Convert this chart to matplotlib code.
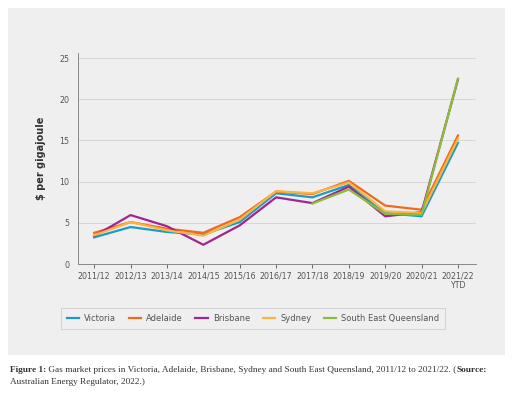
import matplotlib
matplotlib.use("Agg")
import matplotlib.pyplot as plt
from matplotlib.patches import Rectangle

years = ["2011/12", "2012/13", "2013/14", "2014/15", "2015/16", "2016/17",
         "2017/18", "2018/19", "2019/20", "2020/21", "2021/22\nYTD"]

victoria = [3.25, 4.5, 3.9, 3.6, 5.1, 8.6, 8.1, 9.6, 6.2, 5.8, 14.7]
adelaide = [3.8, 5.1, 4.3, 3.8, 5.7, 8.8, 8.5, 10.1, 7.1, 6.6, 15.6]
brisbane = [3.4, 5.95, 4.6, 2.35, 4.7, 8.1, 7.4, 9.4, 5.8, 6.3, 22.4]
sydney = [3.5, 5.1, 4.1, 3.45, 5.4, 8.85, 8.6, 9.9, 6.4, 6.2, 15.2]
seq = [None, None, None, None, None, None, 7.35, 9.05, 6.1, 6.0, 22.5]

series = [("Victoria", victoria, "#1a9bc8"),
          ("Adelaide", adelaide, "#f06a1e"),
          ("Brisbane", brisbane, "#a0268f"),
          ("Sydney", sydney, "#fbb442"),
          ("South East Queensland", seq, "#8abd3c")]

fig = plt.figure(figsize=(5.12, 3.99), dpi=100, facecolor="white")
bg = Rectangle((8 / 512, 1 - 355 / 399), 497 / 512, 347 / 399,
               transform=fig.transFigure, facecolor="#efefef",
               edgecolor="none", zorder=-5)
fig.add_artist(bg)

ax = fig.add_axes([0.152, 0.338, 0.778, 0.529])
ax.set_facecolor("none")
ax.set_zorder(1)

x = list(range(len(years)))
for name, vals, col in series:
    xs = [i for i, v in zip(x, vals) if v is not None]
    ys = [v for v in vals if v is not None]
    ax.plot(xs, ys, color=col, lw=1.6, label=name)

ax.set_xlim(-0.45, len(years) - 0.5)
ax.set_ylim(0, 25.6)
ax.set_yticks([0, 5, 10, 15, 20, 25])
ax.set_xticks(x)
ax.set_xticklabels(years)
ax.tick_params(axis="both", labelsize=5.7, colors="#555555", length=3, width=0.6)
ax.tick_params(axis="y", length=0, pad=6)
ax.tick_params(axis="x", pad=2)
ax.grid(axis="y", color="#d6d6d6", lw=0.7)
ax.set_axisbelow(True)
for s in ["top", "right"]:
    ax.spines[s].set_visible(False)
for s in ["left", "bottom"]:
    ax.spines[s].set_color("#888888")
    ax.spines[s].set_linewidth(0.7)
ax.set_ylabel("\\$ per gigajoule", fontsize=7, fontweight="bold", color="#333333", labelpad=10)

leg = ax.legend(loc="upper center", bbox_to_anchor=(0.44, -0.19), ncol=5,
                fontsize=6.0, frameon=True, fancybox=False, handlelength=1.5,
                columnspacing=1.5, handletextpad=0.6, borderpad=0.7)
leg.get_frame().set_edgecolor("#cccccc")
leg.get_frame().set_facecolor("#efefef")
leg.get_frame().set_linewidth(0.7)
for t in leg.get_texts():
    t.set_color("#555555")

# caption, pieces chained one after the other
cap = dict(fontsize=6.7, family="Liberation Serif", color="#333333")
t1 = fig.text(10 / 512, 1 - 372 / 399, "Figure 1:", fontweight="bold", **cap)
t2 = plt.annotate(" Gas market prices in Victoria, Adelaide, Brisbane, Sydney and South East Queensland, 2011/12 to 2021/22. (",
                  xy=(1, 0), xycoords=t1, va="bottom", ha="left", **cap)
t3 = plt.annotate("Source:", xy=(1, 0), xycoords=t2, va="bottom", ha="left",
                  fontweight="bold", **cap)
fig.text(10 / 512, 1 - 384 / 399, "Australian Energy Regulator, 2022.)", **cap)

fig.savefig("out.png", dpi=100, facecolor="white")
